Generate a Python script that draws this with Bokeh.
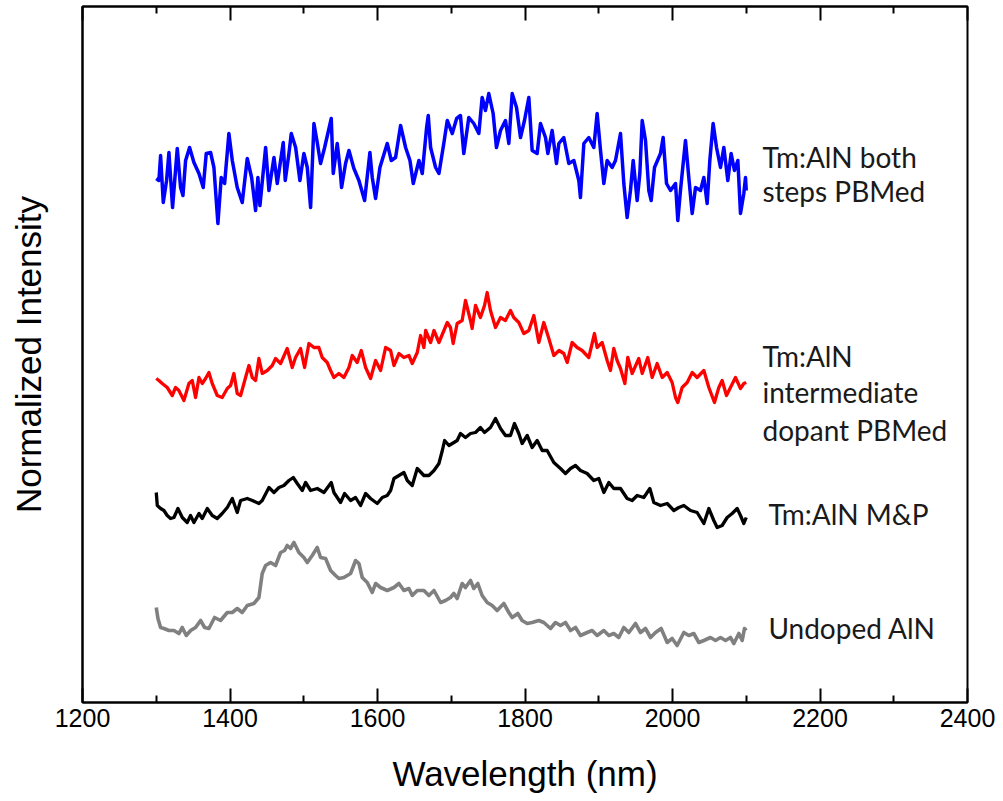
from bokeh.plotting import figure
from bokeh.models import FixedTicker, LinearAxis, Range1d, Label
from bokeh.embed import file_html
from bokeh.resources import INLINE

# ---- data (wavelength nm, normalized intensity with vertical offsets) ----
blue_points = [
    (1300, 5.24), (1303.6, 5.22), (1305.9, 5.47), (1309.5, 5.00), (1314, 5.22), (1317.2, 5.50),
    (1322.1, 4.95), (1328.5, 5.54), (1333, 5.15), (1336.2, 5.07), (1339.8, 5.42), (1345.2, 5.55),
    (1351.1, 5.40), (1357.9, 5.29), (1363.7, 5.15), (1367.8, 5.49), (1373.7, 5.50), (1378.2, 5.35),
    (1383.6, 4.79), (1388.1, 5.25), (1392.7, 5.19), (1398.5, 5.69), (1403.1, 5.42), (1409.8, 5.15),
    (1416.6, 5.00), (1423.4, 5.44), (1429.3, 5.25), (1434.7, 4.92), (1437.8, 5.25), (1440.6, 4.97),
    (1448.3, 5.55), (1452.8, 5.12), (1459.6, 5.45), (1464.1, 5.19), (1472.2, 5.60), (1474.9, 5.22),
    (1479.9, 5.49), (1483.1, 5.69), (1489, 5.55), (1494.8, 5.22), (1500.2, 5.49), (1504.8, 5.35),
    (1509.3, 4.95), (1513.8, 5.79), (1518.3, 5.60), (1522.8, 5.39), (1528.3, 5.55), (1537.3, 5.84),
    (1540, 5.29), (1545.4, 5.59), (1549.1, 5.35), (1551.3, 5.15), (1556.7, 5.39), (1561.3, 5.52),
    (1568, 5.34), (1574.8, 5.22), (1582.5, 5.02), (1589.7, 5.50), (1592.9, 5.25), (1597.4, 5.04),
    (1603.3, 5.35), (1613.2, 5.59), (1618.7, 5.42), (1624.5, 5.45), (1631.3, 5.77), (1638.1, 5.55),
    (1644, 5.42), (1648.5, 5.19), (1656.2, 5.42), (1660.7, 5.29), (1666.6, 5.75), (1668.8, 5.87),
    (1672, 5.55), (1678.8, 5.35), (1683.3, 5.29), (1690.1, 5.60), (1694.6, 5.82), (1701.4, 5.69),
    (1707.3, 5.84), (1712.5, 5.87), (1717, 5.49), (1723.8, 5.85), (1730.6, 5.79), (1737.4, 5.69),
    (1741.9, 6.05), (1746.4, 5.92), (1750.9, 6.09), (1756.8, 5.89), (1761.3, 5.55), (1766.8, 5.72),
    (1773.5, 5.82), (1778.1, 5.59), (1782.6, 6.09), (1788.5, 5.95), (1793.9, 5.65), (1799.3, 5.82),
    (1805.2, 6.05), (1809.7, 5.52), (1816.5, 5.49), (1821, 5.79), (1827.8, 5.65), (1831, 5.49),
    (1836.8, 5.72), (1842.7, 5.39), (1845.9, 5.59), (1852.6, 5.65), (1859.4, 5.39), (1866.2, 5.42),
    (1873, 5.22), (1875.2, 5.05), (1879.8, 5.59), (1886.5, 5.65), (1893.3, 5.55), (1897.8, 5.89),
    (1902.4, 5.52), (1906.9, 5.19), (1911.4, 5.42), (1918.2, 5.35), (1922.7, 5.42), (1929.5, 5.69),
    (1934, 5.19), (1938.5, 4.85), (1943, 5.12), (1946.7, 5.42), (1952.1, 5.02), (1955.7, 5.29),
    (1958.9, 5.82), (1963.4, 5.62), (1967.9, 5.12), (1971.1, 5.02), (1975.6, 5.35), (1983.7, 5.49),
    (1987.3, 5.65), (1991.9, 5.19), (1997.3, 5.12), (2004.1, 5.19), (2007.2, 4.82), (2010.8, 5.12),
    (2017.6, 5.62), (2022.1, 5.25), (2026.7, 4.89), (2031.2, 5.15), (2038, 5.12), (2042.5, 5.25),
    (2047, 4.99), (2050.6, 5.42), (2055.1, 5.79), (2059.7, 5.55), (2065.1, 5.35), (2069.6, 5.55),
    (2075, 5.22), (2079.5, 5.49), (2084, 5.32), (2088.6, 5.42), (2092.2, 4.89), (2096.7, 5.09),
    (2099, 5.25), (2100, 5.12),
]

red_points = [
    (1300, 3.24), (1303.6, 3.22), (1308.1, 3.19), (1314.9, 3.15), (1321.7, 3.07), (1326.2, 3.15),
    (1330.7, 3.12), (1337.5, 3.02), (1344.3, 3.19), (1348.8, 3.22), (1353.3, 3.05), (1357.9, 3.25),
    (1362.4, 3.19), (1366.9, 3.24), (1371.4, 3.30), (1375.9, 3.19), (1382.7, 3.07), (1389.4, 3.05),
    (1396.3, 3.14), (1400.8, 3.17), (1405.3, 3.29), (1409.8, 3.09), (1414.4, 3.07), (1421.1, 3.25),
    (1425.7, 3.37), (1430.2, 3.25), (1434.7, 3.22), (1439.2, 3.44), (1443.7, 3.29), (1450.5, 3.32),
    (1457.3, 3.37), (1461.8, 3.44), (1468.6, 3.39), (1477.6, 3.54), (1484.4, 3.35), (1488.9, 3.45),
    (1495.7, 3.54), (1501.1, 3.35), (1507, 3.59), (1513.8, 3.55), (1520.5, 3.55), (1525, 3.45),
    (1531.8, 3.40), (1536.4, 3.32), (1540.9, 3.25), (1547.6, 3.29), (1554.4, 3.25), (1561.3, 3.35),
    (1565.8, 3.47), (1572.5, 3.40), (1578, 3.52), (1583.9, 3.35), (1590.6, 3.24), (1597.4, 3.42),
    (1604.2, 3.32), (1611, 3.55), (1617.8, 3.52), (1622.3, 3.37), (1629.1, 3.49), (1635.8, 3.45),
    (1642.6, 3.47), (1647.1, 3.39), (1653.9, 3.50), (1658.4, 3.67), (1662.9, 3.55), (1665.3, 3.72),
    (1672, 3.60), (1676.6, 3.72), (1683.3, 3.60), (1690.1, 3.72), (1694.6, 3.80), (1699, 3.75),
    (1702.6, 3.59), (1708, 3.79), (1714.8, 3.82), (1719.3, 4.02), (1726.1, 3.82), (1728.3, 3.74),
    (1732.9, 3.97), (1739.6, 3.85), (1745.1, 3.97), (1748.7, 4.10), (1753.2, 3.92), (1760, 3.75),
    (1766.8, 3.85), (1773.5, 3.82), (1780.3, 3.92), (1784.8, 3.85), (1791.6, 3.80), (1798.4, 3.69),
    (1805.2, 3.72), (1812, 3.87), (1818.7, 3.60), (1825.5, 3.80), (1832.3, 3.64), (1839.1, 3.47),
    (1846.2, 3.52), (1852.6, 3.49), (1857.2, 3.40), (1863.9, 3.60), (1870.7, 3.55), (1877.5, 3.52),
    (1886.5, 3.45), (1894.2, 3.69), (1897.8, 3.55), (1904.6, 3.60), (1911.4, 3.42), (1915.9, 3.32),
    (1920.4, 3.54), (1924.9, 3.42), (1929.5, 3.34), (1935.4, 3.19), (1939.4, 3.45), (1945.3, 3.29),
    (1954.3, 3.44), (1958.9, 3.29), (1966.5, 3.45), (1972.4, 3.25), (1979.2, 3.39), (1986, 3.25),
    (1992.8, 3.30), (1999.5, 3.20), (2004.1, 3.05), (2007.2, 3.00), (2013.1, 3.15), (2019.9, 3.20),
    (2026.7, 3.30), (2033.4, 3.25), (2042.5, 3.32), (2049.3, 3.15), (2056.9, 3.00), (2062.8, 3.15),
    (2067.3, 3.22), (2073.2, 3.07), (2078.6, 3.15), (2085.4, 3.25), (2092.2, 3.14), (2096.7, 3.19),
    (2100, 3.20),
]

black_points = [
    (1300, 2.10), (1301.4, 1.97), (1305.9, 1.94), (1310.4, 1.92), (1314.9, 1.87), (1319.4, 1.84),
    (1324, 1.85), (1329.4, 1.94), (1335.3, 1.85), (1342, 1.80), (1346.5, 1.87), (1351.1, 1.80),
    (1357.9, 1.89), (1362.4, 1.84), (1369.2, 1.94), (1375.9, 1.87), (1382.7, 1.84), (1389.4, 1.89),
    (1396.3, 1.95), (1403.1, 2.04), (1409.8, 1.90), (1414.4, 2.02), (1423.4, 2.04), (1430.2, 2.02),
    (1439.2, 1.99), (1443.7, 2.02), (1452.8, 2.15), (1459.6, 2.10), (1466.4, 2.15), (1473.1, 2.17),
    (1479.9, 2.22), (1485.8, 2.25), (1491.2, 2.19), (1498, 2.12), (1502.5, 2.20), (1509.3, 2.12),
    (1518.3, 2.14), (1527.4, 2.10), (1537.3, 2.20), (1540.9, 2.10), (1549.9, 2.00), (1555.4, 2.09),
    (1563.5, 2.02), (1570.3, 2.05), (1577, 1.97), (1583.9, 2.09), (1590.6, 2.04), (1599.7, 1.99),
    (1606.5, 2.05), (1613.2, 2.07), (1617.8, 2.12), (1622.3, 2.24), (1629.1, 2.27), (1635.8, 2.30),
    (1640.4, 2.22), (1647.1, 2.17), (1653.9, 2.34), (1662.9, 2.27), (1669.7, 2.27), (1676.6, 2.32),
    (1683.3, 2.39), (1687.9, 2.52), (1691, 2.62), (1696.9, 2.57), (1703.6, 2.60), (1708, 2.62),
    (1712.5, 2.69), (1719.3, 2.65), (1726.1, 2.69), (1732.9, 2.70), (1739.6, 2.75), (1745.1, 2.70),
    (1753.2, 2.75), (1760, 2.84), (1766.8, 2.74), (1773.5, 2.67), (1780.3, 2.67), (1785.7, 2.79),
    (1791.6, 2.69), (1796.1, 2.59), (1803, 2.67), (1809.7, 2.55), (1816.5, 2.62), (1823.3, 2.52),
    (1830, 2.52), (1839.1, 2.40), (1848.1, 2.34), (1854.9, 2.29), (1861.7, 2.34), (1868.5, 2.37),
    (1875.2, 2.32), (1884.3, 2.29), (1893.3, 2.22), (1900.1, 2.24), (1906.9, 2.10), (1913.7, 2.20),
    (1920.4, 2.14), (1929.5, 2.14), (1938.5, 2.04), (1945.3, 2.02), (1952.1, 2.07), (1961.1, 2.05),
    (1969.3, 2.14), (1974.7, 2.00), (1983.7, 1.97), (1992.8, 1.99), (2001.8, 1.92), (2008.6, 1.95),
    (2015.4, 1.97), (2024.4, 1.92), (2033.4, 1.90), (2042.5, 1.79), (2049.3, 1.94), (2056, 1.82),
    (2060.6, 1.75), (2067.3, 1.77), (2074.1, 1.85), (2080.9, 1.89), (2087.7, 1.94), (2092.2, 1.87),
    (2096.7, 1.79), (2100, 1.85),
]

gray_points = [
    (1300, 0.95), (1302.3, 0.84), (1305.9, 0.75), (1310.4, 0.74), (1317.2, 0.72), (1324, 0.72),
    (1330.7, 0.69), (1335.3, 0.75), (1340.7, 0.67), (1346.6, 0.72), (1353.3, 0.75), (1360.1, 0.82),
    (1365.6, 0.75), (1371.4, 0.74), (1379.1, 0.85), (1387.2, 0.82), (1396.3, 0.90), (1403.1, 0.90),
    (1409.8, 0.94), (1416.6, 0.90), (1423.4, 0.97), (1432.4, 0.99), (1439.2, 1.05), (1443.7, 1.29),
    (1448.3, 1.37), (1455, 1.40), (1461.8, 1.37), (1468.6, 1.50), (1474, 1.52), (1477.6, 1.57),
    (1482.1, 1.54), (1486.7, 1.60), (1493.4, 1.50), (1500.2, 1.45), (1504.8, 1.40), (1511.5, 1.47),
    (1518.3, 1.55), (1522.8, 1.45), (1529.6, 1.44), (1536.4, 1.32), (1543.1, 1.27), (1547.6, 1.24),
    (1554.4, 1.25), (1563.5, 1.29), (1570.3, 1.42), (1574.8, 1.39), (1579.3, 1.25), (1586.1, 1.20),
    (1592.9, 1.10), (1597.4, 1.19), (1604.2, 1.15), (1613.2, 1.12), (1622.3, 1.15), (1629.1, 1.19),
    (1635.8, 1.12), (1642.6, 1.14), (1647.1, 1.07), (1653.9, 1.12), (1662.9, 1.12), (1669.7, 1.07),
    (1676.6, 1.12), (1685.6, 1.00), (1692.3, 1.02), (1699, 1.05), (1703.5, 1.09), (1708, 1.04),
    (1714.8, 1.19), (1719.3, 1.15), (1726.1, 1.22), (1730.6, 1.14), (1736, 1.19), (1741.9, 1.07),
    (1748.7, 1.00), (1755.5, 0.97), (1762.2, 0.92), (1771.3, 0.99), (1778.1, 0.90), (1782.6, 0.85),
    (1790.3, 0.89), (1796.1, 0.82), (1803, 0.79), (1809.7, 0.80), (1818.7, 0.82), (1825.5, 0.80),
    (1834.6, 0.74), (1841.3, 0.80), (1848.1, 0.77), (1854.9, 0.80), (1861.7, 0.72), (1868.5, 0.75),
    (1875.2, 0.67), (1884.3, 0.70), (1891.1, 0.72), (1897.8, 0.67), (1906.9, 0.72), (1913.7, 0.67),
    (1920.4, 0.69), (1927.2, 0.65), (1934, 0.75), (1940.8, 0.70), (1949.8, 0.79), (1956.6, 0.70),
    (1963.4, 0.74), (1970.2, 0.65), (1977, 0.70), (1984.6, 0.74), (1992.8, 0.60), (1999.5, 0.64),
    (2006.3, 0.57), (2015.4, 0.70), (2022.1, 0.67), (2028.9, 0.69), (2035.7, 0.60), (2042.5, 0.62),
    (2051.5, 0.65), (2058.3, 0.62), (2065.1, 0.65), (2071.9, 0.62), (2078.6, 0.65), (2083.2, 0.59),
    (2090, 0.69), (2094.5, 0.62), (2097.6, 0.74), (2100, 0.72),
]

series_labels = [
    ["Tm:AlN both", "steps PBMed"],
    ["Tm:AlN", "intermediate", "dopant PBMed"],
    ["Tm:AlN M&P"],
    ["Undoped AlN"],
]
x_major_ticks = [1200, 1400, 1600, 1800, 2000, 2200, 2400]
x_minor_ticks = [1300, 1500, 1700, 1900, 2100, 2300]

AXIS_FONT = "Liberation Sans"

p = figure(width=997, height=800, output_backend="svg", toolbar_location=None,
           x_range=Range1d(1200, 2400), y_range=Range1d(0, 6.96),
           min_border_left=82, min_border_right=30, min_border_top=6, min_border_bottom=98,
           background_fill_color="white", border_fill_color="white")
p.grid.visible = False
p.outline_line_color = "black"
p.outline_line_width = 2

ticker = FixedTicker(ticks=x_major_ticks, minor_ticks=x_minor_ticks)
xa = p.xaxis[0]
xa.ticker = ticker
xa.axis_line_width = 2
xa.major_tick_in = 14
xa.major_tick_out = 0
xa.minor_tick_in = 7
xa.minor_tick_out = 0
xa.major_tick_line_width = 2
xa.minor_tick_line_width = 2
xa.major_label_text_font = AXIS_FONT
xa.major_label_text_font_size = "25px"
xa.major_label_text_color = "black"
xa.major_label_standoff = 6
xa.axis_label = "Wavelength (nm)"
xa.axis_label_text_font = AXIS_FONT
xa.axis_label_text_font_size = "35px"
xa.axis_label_text_font_style = "normal"
xa.axis_label_text_color = "black"
xa.axis_label_standoff = 24

top = LinearAxis(ticker=ticker, major_label_text_font_size="1px", major_label_text_color=None,
                 major_label_standoff=0,
                 major_tick_in=14, major_tick_out=0, minor_tick_in=7, minor_tick_out=0,
                 major_tick_line_width=2, minor_tick_line_width=2, axis_line_width=2)
p.add_layout(top, "above")

ya = p.yaxis[0]
ya.ticker = FixedTicker(ticks=[], minor_ticks=[])
ya.major_tick_line_color = None
ya.minor_tick_line_color = None
ya.axis_line_width = 2
ya.axis_label = "Normalized Intensity"
ya.axis_label_text_font = AXIS_FONT
ya.axis_label_text_font_size = "35px"
ya.axis_label_text_font_style = "normal"
ya.axis_label_text_color = "black"
ya.axis_label_standoff = 35

colors = ["#0000ff", "#ff0000", "#000000", "#808080"]
widths = [3.5, 3.3, 3.3, 3.6]
for pts, c, w in zip([blue_points, red_points, black_points, gray_points], colors, widths):
    xs = [a for a, b in pts]
    ys = [b for a, b in pts]
    p.line(xs, ys, line_color=c, line_width=w, line_join="round")

# label placement (data coords)
label_x = [2122, 2122, 2130, 2130]
label_y = [[5.46, 5.12], [3.47, 3.11, 2.73], [1.89], [0.75]]
for lines, lx, lys in zip(series_labels, label_x, label_y):
    for t, ly in zip(lines, lys):
        p.add_layout(Label(x=lx, y=ly, text=t, text_baseline="middle", text_align="left",
                           text_font="Lato", text_font_size="28px", text_color="#1a1a1a"))

open("out.html", "w").write(file_html(p, INLINE))
